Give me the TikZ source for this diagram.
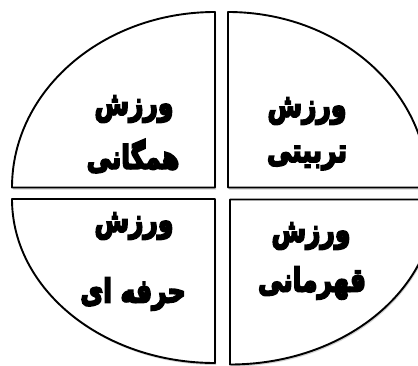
\documentclass[tikz,border=0pt]{standalone}
\usepackage{fontspec}
\usepackage{graphicx}
\newfontfamily\arabicfont[Script=Arabic,BoldFeatures={FakeBold=6}]{DejaVu Sans}
\TeXXeTstate=1
\newcommand{\tallfa}[1]{\scalebox{1}[1.3]{\beginR #1\endR}}
\begin{document}
\begin{tikzpicture}[x=1pt,y=1pt,
  sector/.style={draw=black,line width=1.9pt,fill=white,line join=round},
  shade/.style={fill=black,opacity=0.18,draw=none},
  lbl/.style={font=\arabicfont\bfseries\fontsize{25}{29}\selectfont,inner sep=0pt}]
\useasboundingbox (0,0) rectangle (418,365);
\clip (0,0) rectangle (418,365);
% shadows
\begin{scope}[xshift=1pt,yshift=-2pt]
\path[shade] (215,177.5) -- (12,177.5) arc[start angle=180,end angle=90,x radius=203,y radius=175.5] -- cycle;
\path[shade] (228,177.5) -- (228,353) arc[start angle=90,end angle=0,x radius=200,y radius=175.5] -- cycle;
\path[shade] (215,166) -- (12,166) arc[start angle=180,end angle=270,x radius=203,y radius=164] -- cycle;
\path[shade] (230,165.5) -- (435,165.5) arc[start angle=0,end angle=-90,x radius=205,y radius=165] -- cycle;
\end{scope}
% sectors
\draw[sector] (215,177.5) -- (12,177.5) arc[start angle=180,end angle=90,x radius=203,y radius=175.5] -- cycle;
\draw[sector] (228,177.5) -- (228,353) arc[start angle=90,end angle=0,x radius=200,y radius=175.5] -- cycle;
\draw[sector] (215,166) -- (12,166) arc[start angle=180,end angle=270,x radius=203,y radius=164] -- cycle;
\draw[sector] (230,165.5) -- (435,165.5) arc[start angle=0,end angle=-90,x radius=205,y radius=165] -- cycle;
% labels
\node[lbl] (tl1) at (134,256) {\tallfa{ورزش}};
\node[lbl] (tl2) at (133,209) {\tallfa{همگانی}};
\node[lbl] (tr1) at (307,254) {\tallfa{ورزش}};
\node[lbl] (tr2) at (307,207) {\tallfa{تربیتی}};
\node[lbl] (bl1) at (134,139) {\tallfa{ورزش}};
\node[lbl] (bl2) at (133,71) {\tallfa{حرفه ای}};
\node[lbl] (br1) at (311,129) {\tallfa{ورزش}};
\node[lbl] (br2) at (312,82) {\tallfa{قهرمانی}};
\end{tikzpicture}
\end{document}
